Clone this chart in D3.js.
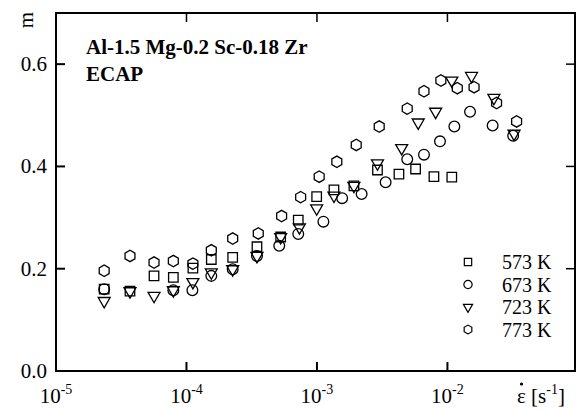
<!DOCTYPE html>
<html>
<head>
<meta charset="utf-8">
<script src="https://cdn.jsdelivr.net/npm/d3@7"></script>
<style>
  body { margin: 0; background: #fff; }
  text { font-family: "Liberation Serif", "Times New Roman", serif; fill: #000; }
</style>
</head>
<body>
<div id="chart"></div>
<script>
// strain rate [1/s] and strain rate sensitivity m, one pair of arrays per temperature
const rate573 = [2.34e-5, 3.69e-5, 5.64e-5, 7.93e-5, 1.12e-4, 1.55e-4, 2.26e-4, 3.47e-4, 5.27e-4, 7.19e-4, 9.95e-4, 1.35e-3, 1.92e-3, 2.91e-3, 4.25e-3, 5.70e-3, 7.88e-3, 1.08e-2];
const m573 = [0.160, 0.156, 0.186, 0.183, 0.201, 0.218, 0.222, 0.243, 0.262, 0.295, 0.341, 0.354, 0.362, 0.393, 0.385, 0.395, 0.380, 0.379];

const rate673 = [2.34e-5, 7.93e-5, 1.11e-4, 1.55e-4, 2.26e-4, 3.47e-4, 5.14e-4, 7.19e-4, 1.12e-3, 1.56e-3, 2.20e-3, 3.36e-3, 4.92e-3, 6.61e-3, 8.77e-3, 1.13e-2, 1.49e-2, 2.22e-2, 3.19e-2];
const m673 = [0.160, 0.158, 0.158, 0.186, 0.199, 0.225, 0.245, 0.268, 0.292, 0.338, 0.346, 0.369, 0.414, 0.423, 0.449, 0.478, 0.507, 0.480, 0.460];

const rate723 = [2.34e-5, 3.69e-5, 5.64e-5, 7.93e-5, 1.12e-4, 1.55e-4, 2.26e-4, 3.47e-4, 5.27e-4, 7.34e-4, 9.95e-4, 1.35e-3, 1.92e-3, 2.91e-3, 4.46e-3, 5.97e-3, 8.12e-3, 1.08e-2, 1.53e-2, 2.27e-2, 3.24e-2];
const m723 = [0.137, 0.156, 0.147, 0.158, 0.174, 0.193, 0.199, 0.225, 0.262, 0.281, 0.318, 0.343, 0.362, 0.406, 0.436, 0.486, 0.507, 0.568, 0.577, 0.534, 0.464];

const rate773 = [2.34e-5, 3.69e-5, 5.64e-5, 7.93e-5, 1.12e-4, 1.55e-4, 2.26e-4, 3.55e-4, 5.36e-4, 7.50e-4, 1.04e-3, 1.42e-3, 2.0e-3, 3.0e-3, 4.92e-3, 6.61e-3, 8.91e-3, 1.19e-2, 1.60e-2, 2.38e-2, 3.39e-2];
const m773 = [0.196, 0.225, 0.212, 0.215, 0.210, 0.236, 0.259, 0.269, 0.303, 0.340, 0.380, 0.409, 0.442, 0.478, 0.513, 0.547, 0.568, 0.553, 0.555, 0.524, 0.488];

const seriesLabels = ['573 K', '673 K', '723 K', '773 K'];
const xTickExps = [-5, -4, -3, -2];
const yTicks = [0.0, 0.2, 0.4, 0.6];

const width = 578;
const height = 410;
const margin = { top: 13, right: 3, bottom: 39, left: 56 };

const svg = d3
  .select('#chart')
  .append('svg')
  .attr('width', width)
  .attr('height', height);

const x = d3.scaleLog().domain([1e-5, 0.095]).range([margin.left, width - margin.right]);
const y = d3.scaleLinear().domain([0, 0.7]).range([height - margin.bottom, margin.top]);

// marker shapes: square, circle, down triangle, pointy-top hexagon
const hexagon = {
  draw(ctx, size) {
    const r = Math.sqrt(size / (1.5 * Math.sqrt(3)));
    for (let i = 0; i < 6; i++) {
      const a = Math.PI / 2 + (i * Math.PI) / 3;
      const px = r * Math.cos(a), py = r * Math.sin(a);
      if (i === 0) ctx.moveTo(px, py); else ctx.lineTo(px, py);
    }
    ctx.closePath();
  },
};
const shapes = [
  { type: d3.symbolSquare, size: 90, rot: 0 },
  { type: d3.symbolCircle, size: 90, rot: 0 },
  { type: d3.symbolTriangle, size: 62, rot: 180 },
  { type: hexagon, size: 85, rot: 0 },
];

const series = [
  { rates: rate573, ms: m573 },
  { rates: rate673, ms: m673 },
  { rates: rate723, ms: m723 },
  { rates: rate773, ms: m773 },
];

// frame
const plot = svg.append('g');
plot.append('rect')
  .attr('x', margin.left).attr('y', margin.top)
  .attr('width', width - margin.right - margin.left)
  .attr('height', height - margin.bottom - margin.top)
  .attr('fill', 'none').attr('stroke', '#000').attr('stroke-width', 2);

// inward ticks on all four sides
const tickLen = 9;
xTickExps.slice(1).forEach(e => {
  const xp = x(Math.pow(10, e));
  plot.append('line').attr('x1', xp).attr('x2', xp)
    .attr('y1', y(0)).attr('y2', y(0) - tickLen).attr('stroke', '#000').attr('stroke-width', 2);
  plot.append('line').attr('x1', xp).attr('x2', xp)
    .attr('y1', y(0.7)).attr('y2', y(0.7) + tickLen).attr('stroke', '#000').attr('stroke-width', 1.5);
});
yTicks.slice(1).forEach(v => {
  plot.append('line').attr('x1', x.range()[0]).attr('x2', x.range()[0] + tickLen)
    .attr('y1', y(v)).attr('y2', y(v)).attr('stroke', '#000').attr('stroke-width', 2);
  plot.append('line').attr('x1', x.range()[1]).attr('x2', x.range()[1] - tickLen)
    .attr('y1', y(v)).attr('y2', y(v)).attr('stroke', '#000').attr('stroke-width', 1.5);
});

// tick labels
yTicks.forEach(v => {
  svg.append('text')
    .attr('x', margin.left - 9).attr('y', y(v) + 7)
    .attr('text-anchor', 'end').attr('font-size', 21)
    .text(d3.format('.1f')(v));
});
xTickExps.forEach(e => {
  const t = svg.append('text')
    .attr('x', x(Math.pow(10, e))).attr('y', 403)
    .attr('text-anchor', 'middle').attr('font-size', 21);
  t.append('tspan').text('10');
  t.append('tspan').attr('font-size', 14).attr('dy', -9).text('-' + Math.abs(e));
});

// axis titles: epsilon with a dot above
const xt = svg.append('text').attr('x', 517).attr('y', 403).attr('font-size', 21);
xt.append('tspan').text('\u03B5 [s');
xt.append('tspan').attr('font-size', 14).attr('dy', -9).text('-1');
xt.append('tspan').attr('dy', 9).text(']');
svg.append('circle').attr('cx', 521.5).attr('cy', 384).attr('r', 1.6).attr('fill', '#000');

svg.append('text')
  .attr('transform', 'translate(33,20) rotate(-90)')
  .attr('text-anchor', 'middle').attr('font-size', 21)
  .text('m');

// annotation
svg.append('text').attr('x', 86).attr('y', 54)
  .attr('font-size', 21).attr('font-weight', 'bold')
  .text('Al-1.5 Mg-0.2 Sc-0.18 Zr');
svg.append('text').attr('x', 86).attr('y', 81)
  .attr('font-size', 21).attr('font-weight', 'bold')
  .text('ECAP');

// data markers
series.forEach((s, i) => {
  const sh = shapes[i];
  const sym = d3.symbol().type(sh.type).size(sh.size);
  plot.append('g')
    .selectAll('path')
    .data(s.rates.map((r, j) => [r, s.ms[j]]))
    .join('path')
    .attr('transform', d => `translate(${x(d[0])},${y(d[1])}) rotate(${sh.rot})`)
    .attr('d', sym)
    .attr('fill', 'none')
    .attr('stroke', '#000')
    .attr('stroke-width', 1.3);
});

// legend
const legend = svg.append('g').attr('transform', 'translate(468,262)');
seriesLabels.forEach((lab, i) => {
  const sh = shapes[i];
  legend.append('path')
    .attr('transform', `translate(0,${i * 22.5}) rotate(${sh.rot})`)
    .attr('d', d3.symbol().type(sh.type).size(sh.size * 0.6))
    .attr('fill', 'none').attr('stroke', '#000').attr('stroke-width', 1.2);
  legend.append('text')
    .attr('x', 34).attr('y', i * 22.5 + 7)
    .attr('font-size', 20)
    .text(lab);
});
</script>
</body>
</html>
